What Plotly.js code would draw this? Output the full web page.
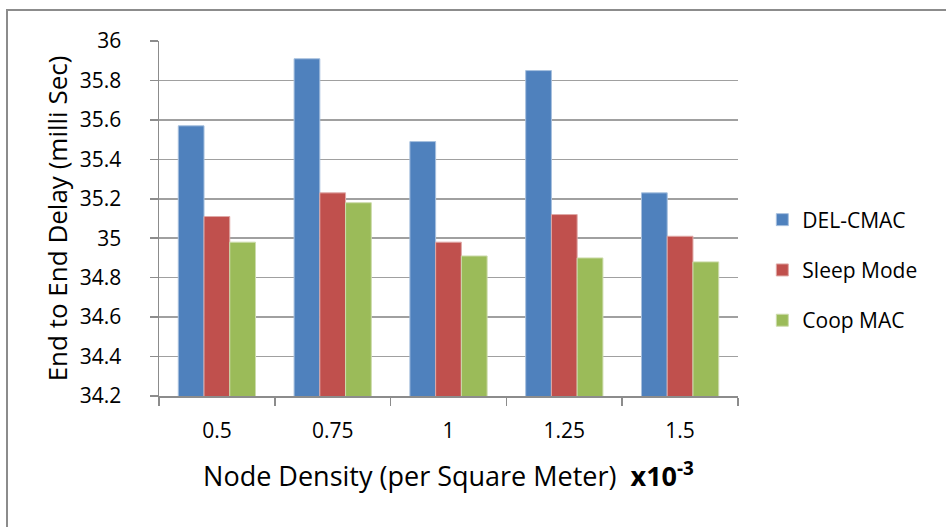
<!DOCTYPE html>
<html>
<head>
<meta charset="utf-8">
<script src="https://cdn.plot.ly/plotly-3.0.1.min.js"></script>
<style>
  html, body { margin: 0; padding: 0; background: #fff; }
  #wrap { position: relative; width: 946px; height: 527px; overflow: hidden; }
  #chart { width: 946px; height: 527px; }
  #frame { position: absolute; left: 6px; top: 9px; width: 1000px; height: 600px;
           border: 2px solid #8c8c8c; box-sizing: border-box; pointer-events: none; }
</style>
</head>
<body>
<div id="wrap">
  <div id="chart"></div>
  <div id="frame"></div>
</div>
<script>
// Node density categories (x10^-3 per square meter)
const densities = ['0.5', '0.75', '1', '1.25', '1.5'];

// End-to-end delay in milliseconds for each protocol
const delCmac   = [35.57, 35.91, 35.49, 35.85, 35.23];
const sleepMode = [35.11, 35.23, 34.98, 35.12, 35.01];
const coopMac   = [34.98, 35.18, 34.91, 34.90, 34.88];

const seriesNames  = ['DEL-CMAC', 'Sleep Mode', 'Coop MAC'];
const seriesColors = ['#4F81BD', '#C0504D', '#9BBB59'];
const seriesEdges  = ['#a7c0de', '#dfa8a6', '#cddcac'];
const seriesValues = [delCmac, sleepMode, coopMac];

const FONT = '"Open Sans", Lato, sans-serif';

const traces = seriesValues.map((vals, i) => ({
  type: 'bar',
  name: seriesNames[i],
  legendgroup: 'g' + i,
  x: densities,
  y: vals,
  marker: { color: seriesColors[i], line: { color: seriesEdges[i], width: 1 } },
  hoverinfo: 'x+y+name'
}));

const layout = {
  width: 946,
  height: 527,
  margin: { l: 159, r: 208, t: 41, b: 131 },
  paper_bgcolor: 'rgba(0,0,0,0)',
  plot_bgcolor: '#ffffff',
  font: { family: FONT, color: '#000000', size: 18 },
  barmode: 'group',
  bargap: 0.333,
  bargroupgap: 0,
  showlegend: true,
  legend: {
    x: 1.042, xanchor: 'left',
    y: 0.355, yanchor: 'middle',
    font: { family: FONT, size: 21, color: '#000000' },
    traceorder: 'grouped',
    tracegroupgap: 20,
    bgcolor: 'rgba(0,0,0,0)'
  },
  xaxis: {
    type: 'category',
    showgrid: false,
    showline: true,
    linecolor: '#8c8c8c',
    linewidth: 1.5,
    ticks: 'outside',
    tickson: 'boundaries',
    ticklen: 8,
    tickcolor: '#8c8c8c',
    tickwidth: 1.5,
    tickfont: { family: FONT, size: 21, color: '#000000' },
    ticklabelstandoff: 15,
    title: {
      text: 'Node Density (per Square Meter)\u00a0 <b>x10<sup>-3</sup></b>',
      font: { family: FONT, size: 27, color: '#000000' },
      standoff: 24
    },
    automargin: false
  },
  yaxis: {
    range: [34.2, 36],
    dtick: 0.2,
    tick0: 34.2,
    showgrid: true,
    gridcolor: '#a0a0a0',
    gridwidth: 1.5,
    zeroline: false,
    showline: true,
    linecolor: '#8c8c8c',
    linewidth: 1.5,
    ticks: 'outside',
    ticklen: 8,
    tickcolor: '#8c8c8c',
    tickwidth: 1.5,
    tickfont: { family: FONT, size: 21, color: '#000000' },
    ticklabelstandoff: 24,
    title: {
      text: 'End to End Delay (milli Sec)',
      font: { family: FONT, size: 26, color: '#000000' },
      standoff: 4
    },
    automargin: false
  }
};

Plotly.newPlot('chart', traces, layout, { displayModeBar: false, staticPlot: true });
</script>
</body>
</html>
